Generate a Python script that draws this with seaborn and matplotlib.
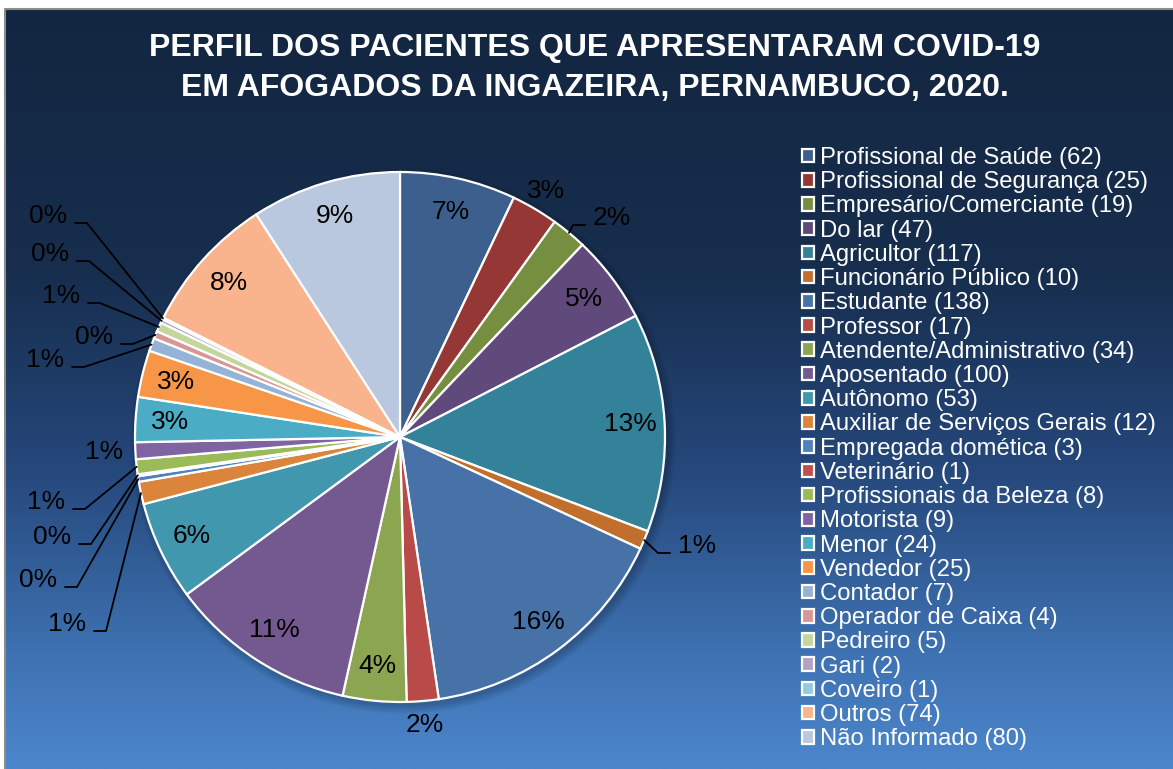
import numpy as np
import seaborn as sns
import matplotlib.pyplot as plt
from matplotlib.colors import LinearSegmentedColormap
from matplotlib.patches import Circle

# Data
categories = ["Profissional de Saúde", "Profissional de Segurança", "Empresário/Comerciante",
              "Do lar", "Agricultor", "Funcionário Público", "Estudante", "Professor",
              "Atendente/Administrativo", "Aposentado", "Autônomo", "Auxiliar de Serviços Gerais",
              "Empregada domética", "Veterinário", "Profissionais da Beleza", "Motorista",
              "Menor", "Vendedor", "Contador", "Operador de Caixa", "Pedreiro", "Gari",
              "Coveiro", "Outros", "Não Informado"]
counts = [62, 25, 19, 47, 117, 10, 138, 17, 34, 100, 53, 12, 3, 1, 8, 9, 24, 25, 7, 4, 5, 2, 1, 74, 80]
slice_colors = ["#3D5F8E", "#943735", "#768E3F", "#5F4A7B", "#33829A", "#C26F2E", "#4772A8",
                "#B84A47", "#8CA550", "#73598F", "#4197AE", "#DA843C", "#4F81BD", "#C0504D",
                "#9BBB59", "#8064A2", "#4BACC6", "#F79646", "#95B3D7", "#D99694", "#C3D69B",
                "#B3A2C7", "#93CDDD", "#F9B48D", "#B9C7DF"]
title = "PERFIL DOS PACIENTES QUE APRESENTARAM COVID-19\nEM AFOGADOS DA INGAZEIRA, PERNAMBUCO, 2020."

sns.set_theme(style="white")
plt.rcParams["font.family"] = ["Liberation Sans", "DejaVu Sans"]

W, H = 1173, 769
cx, cy, R = 400, H - 437, 265

fig = plt.figure(figsize=(W / 100, H / 100), dpi=100)
fig.patch.set_facecolor("white")
ax = fig.add_axes([0, 0, 1, 1])

# background gradient (dark navy on top to blue at the bottom)
bg = LinearSegmentedColormap.from_list(
    "bg", [(0.0, "#132641"), (0.35, "#172E4E"), (0.6, "#25477A"), (0.85, "#3E72B2"), (1.0, "#4C86CB")])
grad = np.linspace(0, 1, 256).reshape(-1, 1)
ax.imshow(grad, extent=[5, W, 0, H - 9], aspect="auto", cmap=bg, origin="upper", zorder=0)
ax.plot([5, 5, W], [0, H - 9, H - 9], color="#8C8C8C", lw=1.5, zorder=1)

# soft shadow under the pie
for k in range(6):
    ax.add_patch(Circle((cx + 3, cy - 4), R + k * 1.5, color="black", alpha=0.035, zorder=1, lw=0))

palette = sns.color_palette(slice_colors)
wedges, _ = ax.pie(counts, colors=palette, startangle=90, counterclock=False,
                   center=(cx, cy), radius=R,
                   wedgeprops=dict(edgecolor="white", linewidth=1.6, zorder=2))
ax.set_xlim(0, W)
ax.set_ylim(0, H)
ax.set_aspect("equal")
ax.axis("off")

# label layout
outside_r = {"Profissional de Segurança": 1.08, "Professor": 1.09, "Motorista": 1.12}
leader_pos = {  # text centre, pixels from top-left
    "Empresário/Comerciante": (612, 218),
    "Funcionário Público": (697, 546),
    "Auxiliar de Serviços Gerais": (67, 624),
    "Empregada domética": (38, 580),
    "Veterinário": (52, 537),
    "Profissionais da Beleza": (46, 502),
    "Contador": (45, 360),
    "Operador de Caixa": (94, 337),
    "Pedreiro": (61, 296),
    "Gari": (50, 254),
    "Coveiro": (48, 216),
}

total = sum(counts)
for name, val, w in zip(categories, counts, wedges):
    pct = f"{val / total * 100:.0f}%"
    th = np.deg2rad((w.theta1 + w.theta2) / 2)
    if name in leader_pos:
        tx, ty = leader_pos[name]
        ty = H - ty
        ax.text(tx, ty, pct, ha="center", va="center", fontsize=19, color="black", zorder=4)
        ly = ty - 7
        side = 1 if tx < cx else -1
        ex, ey = cx + R * np.cos(th), cy + R * np.sin(th)
        ax.plot([tx + side * 27, tx + side * 39, ex], [ly, ly, ey], color="black", lw=1.3, zorder=3)
    else:
        r = outside_r.get(name, 0.87)
        ax.text(cx + r * R * np.cos(th), cy + r * R * np.sin(th), pct, ha="center", va="center",
                fontsize=19, color="black", zorder=4)

leg = ax.legend(wedges, [f"{c} ({v})" for c, v in zip(categories, counts)],
                loc="upper left", bbox_to_anchor=(802 / W, (H - 147) / H), frameon=False,
                fontsize=17.2, labelcolor="white", handlelength=0.5, handleheight=0.5,
                handletextpad=0.25, labelspacing=0.093, borderpad=0, borderaxespad=0)

fig.text(595 / W, 1 - 68 / H, title, ha="center", va="center", fontsize=23,
         weight="bold", color="white", linespacing=1.4)

fig.savefig("out.png", dpi=100, facecolor=fig.get_facecolor())
